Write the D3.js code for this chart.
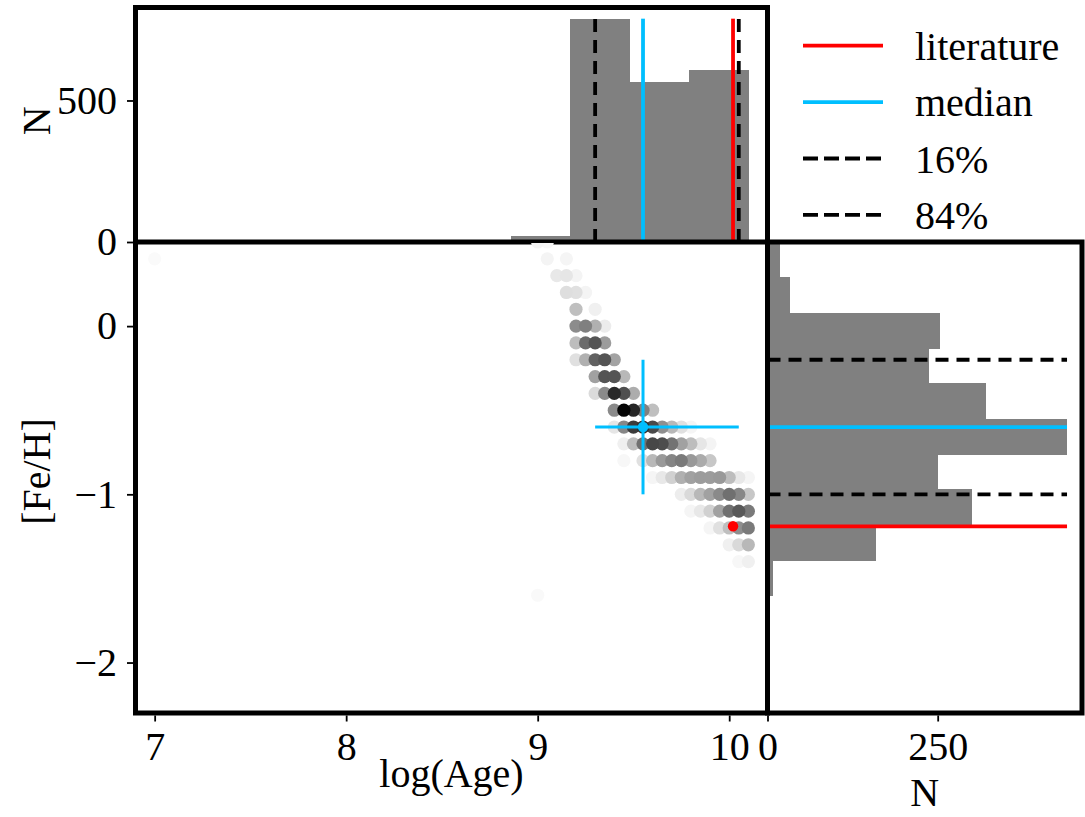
<!DOCTYPE html>
<html><head><meta charset="utf-8">
<script src="https://cdn.jsdelivr.net/npm/d3@7"></script>
<style>
body{margin:0;background:#fff}
svg{display:block}
text{font-family:"Liberation Serif","Times New Roman",serif;fill:#000}
</style>
</head><body>
<svg id="c" width="1085" height="817"></svg>
<script>
// ---------- data ----------
const ageTicks = [7, 8, 9, 10];
const fehTicks = [0, -1, -2];
const topNTicks = [0, 500];
const rightNTicks = [0, 250];

// histogram of log(Age)
const ageBinEdges = [7.0, 7.31, 7.62, 7.93, 8.24, 8.55, 8.86, 9.17, 9.48, 9.79, 10.1];
const ageCounts   = [1, 0, 0, 0, 0, 0, 21, 789, 567, 606];

// histogram of [Fe/H] (bottom to top)
const fehBinEdges = [-1.6, -1.39, -1.18, -0.97, -0.76, -0.55, -0.34, -0.13, 0.08, 0.29, 0.5];
const fehCounts   = [8, 159, 300, 250, 440, 321, 237, 253, 33, 18];

// summary statistics
const ageLit = 10.02, ageMed = 9.55, age16 = 9.30, age84 = 10.05;
const fehLit = -1.19, fehMed = -0.60, feh16 = -1.00, feh84 = -0.20;

// grid of samples: log(Age), [Fe/H], weight (0 = white, 1 = black)
const pointAge = [
  9.0, 9.05,
  7.0, 9.05, 9.15,
  9.1, 9.15, 9.2,
  9.15, 9.2, 9.25,
  9.2, 9.3,
  9.2, 9.25, 9.3, 9.35,
  9.2, 9.25, 9.3, 9.35,
  9.2, 9.25, 9.3, 9.35, 9.4,
  9.3, 9.35, 9.4, 9.45,
  9.3, 9.35, 9.4, 9.45, 9.5,
  9.4, 9.45, 9.5, 9.55, 9.6,
  9.4, 9.45, 9.5, 9.55, 9.6, 9.65, 9.7, 9.75, 9.8,
  9.45, 9.5, 9.55, 9.6, 9.65, 9.7, 9.75, 9.8, 9.85, 9.9,
  9.45, 9.55, 9.6, 9.65, 9.7, 9.75, 9.8, 9.85, 9.9,
  9.6, 9.65, 9.7, 9.75, 9.8, 9.85, 9.9, 9.95, 10.0, 10.05, 10.1,
  9.75, 9.8, 9.85, 9.9, 9.95, 10.0, 10.05, 10.1,
  9.8, 9.85, 9.9, 9.95, 10.0, 10.05, 10.1,
  9.9, 9.95, 10.0, 10.05, 10.1,
  10.0, 10.05, 10.1,
  10.05, 10.1,
  9.0
];
const pointFeH = [
  0.5, 0.5,
  0.4, 0.4, 0.4,
  0.3, 0.3, 0.3,
  0.2, 0.2, 0.2,
  0.1, 0.1,
  0.0, 0.0, 0.0, 0.0,
  -0.1, -0.1, -0.1, -0.1,
  -0.2, -0.2, -0.2, -0.2, -0.2,
  -0.3, -0.3, -0.3, -0.3,
  -0.4, -0.4, -0.4, -0.4, -0.4,
  -0.5, -0.5, -0.5, -0.5, -0.5,
  -0.6, -0.6, -0.6, -0.6, -0.6, -0.6, -0.6, -0.6, -0.6,
  -0.7, -0.7, -0.7, -0.7, -0.7, -0.7, -0.7, -0.7, -0.7, -0.7,
  -0.8, -0.8, -0.8, -0.8, -0.8, -0.8, -0.8, -0.8, -0.8,
  -0.9, -0.9, -0.9, -0.9, -0.9, -0.9, -0.9, -0.9, -0.9, -0.9, -0.9,
  -1.0, -1.0, -1.0, -1.0, -1.0, -1.0, -1.0, -1.0,
  -1.1, -1.1, -1.1, -1.1, -1.1, -1.1, -1.1,
  -1.2, -1.2, -1.2, -1.2, -1.2,
  -1.3, -1.3, -1.3,
  -1.4, -1.4,
  -1.6
];
const pointWeight = [
  0.045, 0.03,
  0.02, 0.045, 0.04,
  0.09, 0.1, 0.045,
  0.13, 0.12, 0.045,
  0.25, 0.06,
  0.45, 0.5, 0.31, 0.075,
  0.26, 0.58, 0.67, 0.39,
  0.12, 0.31, 0.62, 0.67, 0.36,
  0.37, 0.67, 0.67, 0.28,
  0.14, 0.46, 0.84, 0.69, 0.32,
  0.46, 0.98, 0.85, 0.5, 0.25,
  0.1, 0.47, 0.77, 0.81, 0.71, 0.44, 0.28, 0.12, 0.04,
  0.06, 0.26, 0.56, 0.72, 0.7, 0.55, 0.37, 0.26, 0.1, 0.045,
  0.03, 0.12, 0.28, 0.4, 0.48, 0.52, 0.4, 0.33, 0.22,
  0.04, 0.09, 0.18, 0.31, 0.37, 0.39, 0.39, 0.4, 0.26, 0.09, 0.04,
  0.07, 0.15, 0.28, 0.37, 0.46, 0.56, 0.47, 0.22,
  0.04, 0.09, 0.18, 0.37, 0.56, 0.65, 0.52,
  0.04, 0.12, 0.25, 0.44, 0.52,
  0.06, 0.15, 0.28,
  0.03, 0.06,
  0.025
];

const legendLabels = ["literature", "median", "16%", "84%"];

// ---------- layout ----------
const svg = d3.select("#c");
const L = 135.5, R = 767.5, TOP = 7.5, MID = 242, B = 713, R2 = 1082;
const SPW = 5;
const FONT = 40;

const x = d3.scaleLinear().domain([6.9, 10.2]).range([L, R]);
const y = d3.scaleLinear().domain([-2.3, 0.5]).range([B, MID]);
const yTop = d3.scaleLinear().domain([0, 828.5]).range([MID, TOP]);
const xRight = d3.scaleLinear().domain([0, 462]).range([R, R2]);
const shade = d3.scaleLinear().domain([0, 1]).range([255, 0]);

const GRAY = "#808080", BLUE = "#00bfff", RED = "#ff0000";
const LW = 3.8, DASH = "13,8";

function fmt(v) { return v < 0 ? "\u2212" + Math.abs(v) : String(v); }

function styleAxis(g) {
  g.attr("font-family", null).attr("font-size", null);
  g.select(".domain").remove();
  g.selectAll(".tick line").attr("stroke", "#000").attr("stroke-width", 1.8);
  g.selectAll(".tick text").attr("font-size", FONT).attr("fill", "#000");
}

// ---------- top histogram ----------
const gTop = svg.append("g");
gTop.selectAll("rect.bar").data(ageCounts).join("rect")
  .attr("x", (d, i) => x(ageBinEdges[i]))
  .attr("width", (d, i) => x(ageBinEdges[i + 1]) - x(ageBinEdges[i]) + 0.6)
  .attr("y", d => yTop(d))
  .attr("height", d => MID - yTop(d))
  .attr("fill", GRAY).attr("shape-rendering", "crispEdges");
const maxAge = d3.max(ageCounts);
const vlines = [
  {v: age16, c: "#000", dash: DASH},
  {v: ageMed, c: BLUE, dash: null},
  {v: ageLit, c: RED, dash: null},
  {v: age84, c: "#000", dash: DASH}
];
gTop.selectAll("line.v").data(vlines).join("line")
  .attr("x1", d => x(d.v)).attr("x2", d => x(d.v))
  .attr("y1", yTop(0)).attr("y2", yTop(maxAge))
  .attr("stroke", d => d.c).attr("stroke-width", LW)
  .attr("stroke-dasharray", d => d.dash);
gTop.append("rect").attr("x", L).attr("y", TOP).attr("width", R - L).attr("height", MID - TOP)
  .attr("fill", "none").attr("stroke", "#000").attr("stroke-width", SPW);
gTop.append("g").attr("transform", `translate(${L - SPW / 2},0)`)
  .call(d3.axisLeft(yTop).tickValues(topNTicks).tickSize(6).tickPadding(10).tickFormat(fmt))
  .call(styleAxis);

// ---------- scatter ----------
const defs = svg.append("defs");
defs.append("clipPath").attr("id", "clipS").append("rect")
  .attr("x", L).attr("y", MID + 1).attr("width", R - L).attr("height", B - MID - 1);
const pts = pointAge.map((a, i) => ({a: a, f: pointFeH[i], w: pointWeight[i]}))
  .sort((p, q) => p.w - q.w);
const gS = svg.append("g");
gS.append("g").attr("clip-path", "url(#clipS)")
  .selectAll("circle").data(pts).join("circle")
  .attr("cx", d => x(d.a)).attr("cy", d => y(d.f)).attr("r", 6.6)
  .attr("fill", d => { const s = Math.round(shade(d.w)); return `rgb(${s},${s},${s})`; });
// median cross
gS.append("line").attr("x1", x(age16)).attr("x2", x(age84)).attr("y1", y(fehMed)).attr("y2", y(fehMed))
  .attr("stroke", BLUE).attr("stroke-width", 3);
gS.append("line").attr("x1", x(ageMed)).attr("x2", x(ageMed)).attr("y1", y(feh84)).attr("y2", y(feh16))
  .attr("stroke", BLUE).attr("stroke-width", 3);
gS.append("circle").attr("cx", x(ageMed)).attr("cy", y(fehMed)).attr("r", 5.2).attr("fill", BLUE);
gS.append("circle").attr("cx", x(ageLit)).attr("cy", y(fehLit)).attr("r", 5.2).attr("fill", RED);
// spines (left, bottom, right)
gS.append("path").attr("d", `M${L},${MID}V${B}H${R}V${MID}`)
  .attr("fill", "none").attr("stroke", "#000").attr("stroke-width", SPW).attr("stroke-linejoin", "miter");
gS.append("g").attr("transform", `translate(0,${B + SPW / 2})`)
  .call(d3.axisBottom(x).tickValues(ageTicks).tickSize(6).tickPadding(10).tickFormat(fmt))
  .call(styleAxis);
gS.append("g").attr("transform", `translate(${L - SPW / 2},0)`)
  .call(d3.axisLeft(y).tickValues(fehTicks).tickSize(6).tickPadding(10).tickFormat(fmt))
  .call(styleAxis);

// ---------- right histogram ----------
const gR = svg.append("g");
gR.selectAll("rect.bar").data(fehCounts).join("rect")
  .attr("x", R)
  .attr("width", d => xRight(d) - R)
  .attr("y", (d, i) => y(fehBinEdges[i + 1]))
  .attr("height", (d, i) => y(fehBinEdges[i]) - y(fehBinEdges[i + 1]) + 0.6)
  .attr("fill", GRAY).attr("shape-rendering", "crispEdges");
const maxFeh = d3.max(fehCounts);
const hlines = [
  {v: feh84, c: "#000", dash: DASH},
  {v: fehMed, c: BLUE, dash: null},
  {v: feh16, c: "#000", dash: DASH},
  {v: fehLit, c: RED, dash: null}
];
gR.selectAll("line.h").data(hlines).join("line")
  .attr("x1", xRight(0)).attr("x2", xRight(maxFeh))
  .attr("y1", d => y(d.v)).attr("y2", d => y(d.v))
  .attr("stroke", d => d.c).attr("stroke-width", LW)
  .attr("stroke-dasharray", d => d.dash);
gR.append("rect").attr("x", R).attr("y", MID).attr("width", R2 - R).attr("height", B - MID)
  .attr("fill", "none").attr("stroke", "#000").attr("stroke-width", SPW);
gR.append("g").attr("transform", `translate(0,${B + SPW / 2})`)
  .call(d3.axisBottom(xRight).tickValues(rightNTicks).tickSize(6).tickPadding(10).tickFormat(fmt))
  .call(styleAxis);

// ---------- axis labels ----------
svg.append("text").attr("x", (L + R) / 2).attr("y", 787).attr("text-anchor", "middle")
  .attr("font-size", FONT).text("log(Age)");
svg.append("text").attr("x", (R + R2) / 2).attr("y", 806).attr("text-anchor", "middle")
  .attr("font-size", FONT).text("N");
svg.append("text").attr("transform", `translate(50,${(MID + B) / 2 - 6}) rotate(-90)`)
  .attr("text-anchor", "middle").attr("font-size", FONT).text("[Fe/H]");
svg.append("text").attr("transform", `translate(50,${(TOP + MID) / 2 - 4}) rotate(-90)`)
  .attr("text-anchor", "middle").attr("font-size", FONT).text("N");

// ---------- legend ----------
const legStyles = [
  {c: RED, dash: null}, {c: BLUE, dash: null}, {c: "#000", dash: "15,6"}, {c: "#000", dash: "15,6"}
];
const leg = svg.append("g");
legendLabels.forEach((lab, i) => {
  const ly = 45.7 + i * 56.4;
  leg.append("line").attr("x1", 803).attr("x2", 883).attr("y1", ly).attr("y2", ly)
    .attr("stroke", legStyles[i].c).attr("stroke-width", LW)
    .attr("stroke-dasharray", legStyles[i].dash);
  leg.append("text").attr("x", 915).attr("y", ly + 14).attr("font-size", FONT).text(lab);
});
</script>
</body></html>
